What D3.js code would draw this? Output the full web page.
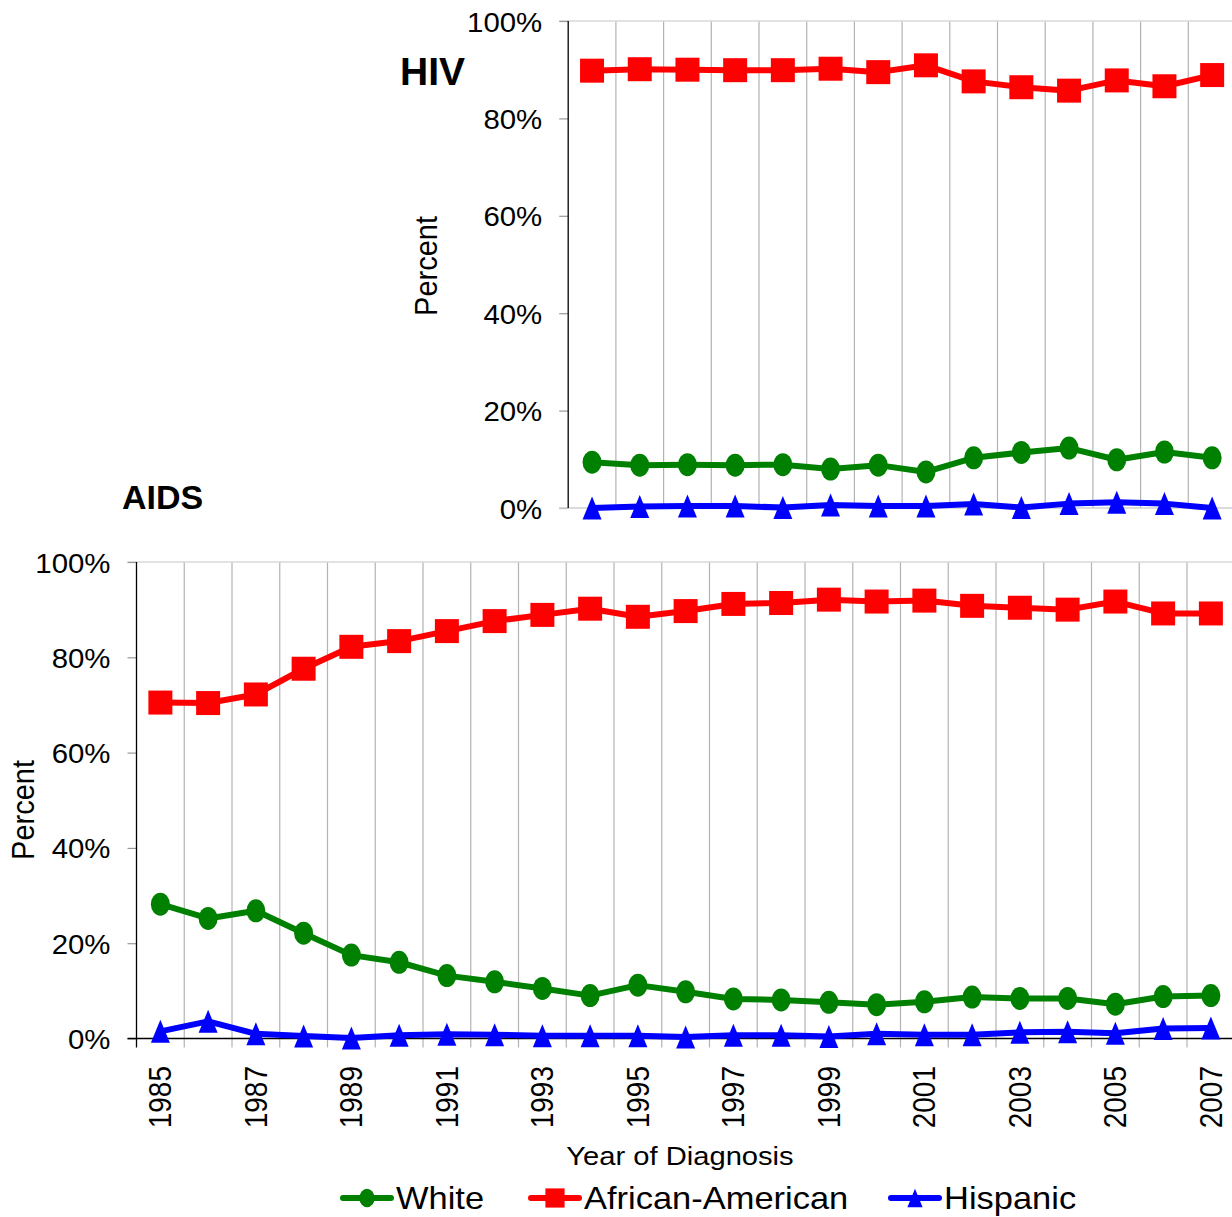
<!DOCTYPE html>
<html>
<head>
<meta charset="utf-8">
<script src="https://cdn.jsdelivr.net/npm/d3@7"></script>
<style>
  html, body { margin: 0; padding: 0; background: #fff; }
  svg text { font-family: "Liberation Sans", Arial, sans-serif; fill: #000; }
</style>
</head>
<body>
<svg id="chart" width="1232" height="1217"></svg>
<script>
// data (percent)
var years = [1985, 1986, 1987, 1988, 1989, 1990, 1991, 1992, 1993, 1994, 1995, 1996,
             1997, 1998, 1999, 2000, 2001, 2002, 2003, 2004, 2005, 2006, 2007];
var hivYears = [1994, 1995, 1996, 1997, 1998, 1999, 2000, 2001, 2002, 2003, 2004, 2005, 2006, 2007];
var yTicks = [0, 20, 40, 60, 80, 100];
var xTickLabels = [1985, 1987, 1989, 1991, 1993, 1995, 1997, 1999, 2001, 2003, 2005, 2007];
var seriesNames = ["White", "African-American", "Hispanic"];

var hivWhite = [9.4, 8.8, 8.9, 8.8, 8.9, 8.0, 8.8, 7.4, 10.3, 11.4, 12.3, 9.9, 11.5, 10.3];
var hivAfricanAmerican = [89.8, 90.1, 90.0, 89.9, 89.9, 90.2, 89.5, 90.9, 87.6, 86.4, 85.7, 87.8, 86.6, 88.9];
var hivHispanic = [0.0, 0.3, 0.4, 0.4, 0.1, 0.6, 0.4, 0.4, 0.8, 0.1, 0.9, 1.2, 0.9, 0.0];

var aidsWhite = [28.2, 25.2, 26.8, 22.1, 17.5, 16.0, 13.2, 11.9, 10.5, 9.0, 11.2, 9.8,
                 8.3, 8.1, 7.6, 7.1, 7.7, 8.7, 8.4, 8.4, 7.2, 8.8, 9.0];
var aidsAfricanAmerican = [70.5, 70.4, 72.2, 77.6, 82.2, 83.4, 85.5, 87.6, 88.9, 90.2, 88.5, 89.7,
                           91.2, 91.4, 92.1, 91.7, 91.9, 90.8, 90.4, 90.0, 91.7, 89.2, 89.2];
var aidsHispanic = [1.5, 3.6, 1.0, 0.5, 0.1, 0.7, 0.9, 0.8, 0.6, 0.6, 0.6, 0.3,
                    0.7, 0.7, 0.4, 1.0, 0.8, 0.8, 1.3, 1.4, 1.1, 2.1, 2.2];

var colors = { "White": "#008000", "African-American": "#ff0000", "Hispanic": "#0000ff" };
var shapes = { "White": "circle", "African-American": "square", "Hispanic": "triangle" };

var svg = d3.select("#chart");

function markerPath(shape, s) {
  // s = scale factor, shapes centered on 0,0
  if (shape === "square") { var h = 12 * s; return "M" + -h + "," + -h + "H" + h + "V" + h + "H" + -h + "Z"; }
  if (shape === "triangle") { var w = 9.5 * s, t = 11.5 * s; return "M0," + -t + "L" + w + "," + t + "L" + -w + "," + t + "Z"; }
  return null;
}

function drawMarker(g, shape, cx, cy, s, color) {
  if (shape === "circle") {
    g.append("ellipse").attr("cx", cx).attr("cy", cy)
      .attr("rx", 9.5 * s).attr("ry", 11.5 * s).attr("fill", color);
  } else {
    g.append("path").attr("d", markerPath(shape, s))
      .attr("transform", "translate(" + cx + "," + cy + ")").attr("fill", color);
  }
}

function drawPanel(opts) {
  var x = d3.scaleBand().domain(opts.years).range(opts.xRange).paddingInner(0).paddingOuter(0);
  var y = d3.scaleLinear().domain([0, 100]).range(opts.yRange);
  var g = svg.append("g");
  var left = opts.xRange[0], right = opts.xRange[1];

  // vertical gridlines at category boundaries
  g.selectAll(".vgrid").data(opts.years.slice(1).concat(["end"])).enter()
    .append("line")
    .attr("x1", function(d) { return d === "end" ? right : x(d); })
    .attr("x2", function(d) { return d === "end" ? right : x(d); })
    .attr("y1", y(100))
    .attr("y2", y(0) + opts.gridBelow)
    .attr("stroke", "#b3b3b3").attr("stroke-width", 1.2);

  // top border
  g.append("line").attr("x1", left - 9).attr("x2", right)
    .attr("y1", y(100)).attr("y2", y(100))
    .attr("stroke", "#d9d9d9").attr("stroke-width", 1.5);

  // y axis
  var yAxis = d3.axisLeft(y).tickValues(yTicks).tickSize(9).tickFormat(function(d) { return d + "%"; });
  var ya = g.append("g").attr("transform", "translate(" + left + ",0)").call(yAxis);
  ya.select(".domain").remove();
  ya.selectAll(".tick line").attr("stroke", "#999").attr("stroke-width", 1.2);
  ya.selectAll(".tick text").remove();
  ya.selectAll(".tick").append("text")
    .attr("transform", "translate(-26,0) scale(1.05,1)")
    .attr("dy", "0.36em")
    .attr("text-anchor", "end")
    .style("font-size", "28px")
    .text(function(d) { return d + "%"; });

  // x axis line
  g.append("line").attr("x1", left - 9).attr("x2", right)
    .attr("y1", y(0)).attr("y2", y(0))
    .attr("stroke", opts.xAxisColor).attr("stroke-width", 1.3);

  // left axis line
  g.append("line").attr("x1", left).attr("x2", left)
    .attr("y1", y(100)).attr("y2", y(0) + opts.gridBelow)
    .attr("stroke", "#000").attr("stroke-width", 1.3);

  // x tick labels
  if (opts.xLabels) {
    g.selectAll(".xlab").data(xTickLabels).enter()
      .append("text")
      .attr("transform", function(d) {
        return "translate(" + (x(d) + x.bandwidth() / 2) + ",1066) scale(1.1,1) rotate(-90)";
      })
      .attr("dy", "0.36em")
      .attr("text-anchor", "end")
      .style("font-size", "28px")
      .text(function(d) { return d; });
  }

  // series
  var line = d3.line()
    .x(function(d) { return x(d.year) + x.bandwidth() / 2; })
    .y(function(d) { return y(d.value); });

  opts.series.forEach(function(s) {
    var pts = opts.years.map(function(yr, i) { return { year: yr, value: s.values[i] }; });
    var sg = g.append("g");
    sg.append("path").datum(pts)
      .attr("fill", "none")
      .attr("stroke", colors[s.name])
      .attr("stroke-width", 6)
      .attr("stroke-linejoin", "round")
      .attr("d", line);
    pts.forEach(function(p) {
      drawMarker(sg, shapes[s.name], x(p.year) + x.bandwidth() / 2, y(p.value), 1, colors[s.name]);
    });
  });

  return g;
}

// HIV panel
drawPanel({
  years: hivYears,
  xRange: [568.2, 1236],
  yRange: [508, 21],
  gridBelow: 0,
  xAxisColor: "#d0d0d0",
  xLabels: false,
  series: [
    { name: "White", values: hivWhite },
    { name: "African-American", values: hivAfricanAmerican },
    { name: "Hispanic", values: hivHispanic }
  ]
});

// AIDS panel
drawPanel({
  years: years,
  xRange: [136.5, 1234.75],
  yRange: [1038.5, 562],
  gridBelow: 9,
  xAxisColor: "#000",
  xLabels: true,
  series: [
    { name: "White", values: aidsWhite },
    { name: "African-American", values: aidsAfricanAmerican },
    { name: "Hispanic", values: aidsHispanic }
  ]
});

// titles
svg.append("text").attr("x", 400).attr("y", 85)
  .style("font-size", "39px").style("font-weight", "bold").text("HIV");
svg.append("text").attr("x", 122).attr("y", 509)
  .style("font-size", "34px").style("font-weight", "bold").text("AIDS");

// axis titles
svg.append("text")
  .attr("transform", "translate(437,266) scale(1.05,1) rotate(-90)")
  .attr("text-anchor", "middle")
  .style("font-size", "29px").text("Percent");
svg.append("text")
  .attr("transform", "translate(33.5,810) scale(1.05,1) rotate(-90)")
  .attr("text-anchor", "middle")
  .style("font-size", "29px").text("Percent");
svg.append("text")
  .attr("transform", "translate(680,1165) scale(1.1,1)")
  .attr("text-anchor", "middle")
  .style("font-size", "26.5px").text("Year of Diagnosis");

// legend
var legendX = [340, 528, 888];
var legend = svg.append("g");
seriesNames.forEach(function(name, i) {
  var lx = legendX[i], ly = 1198;
  legend.append("line").attr("x1", lx + 3).attr("x2", lx + 51)
    .attr("y1", ly).attr("y2", ly)
    .attr("stroke", colors[name]).attr("stroke-width", 6).attr("stroke-linecap", "round");
  drawMarker(legend, shapes[name], lx + 27, ly, 0.8, colors[name]);
  legend.append("text")
    .attr("transform", "translate(" + (lx + 56) + "," + (ly + 10.5) + ") scale(1.13,1)")
    .style("font-size", "30.5px").text(name);
});
</script>
</body>
</html>
